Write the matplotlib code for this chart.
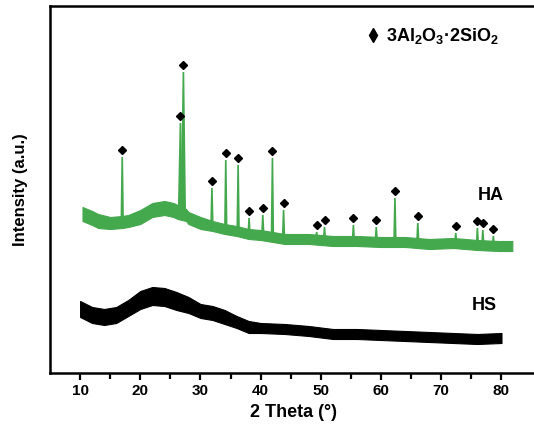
import matplotlib
matplotlib.use("Agg")
import matplotlib.pyplot as plt
from matplotlib.lines import Line2D
import numpy as np

plt.rcParams['font.family'] = ['Liberation Sans', 'DejaVu Sans']
plt.rcParams['font.weight'] = 'bold'
plt.rcParams['mathtext.fontset'] = 'custom'
plt.rcParams['mathtext.bf'] = 'Liberation Sans:bold'
plt.rcParams['mathtext.rm'] = 'Liberation Sans:bold'
plt.rcParams['mathtext.default'] = 'bf'

# HA pattern: background (band centre and half spread)
ha_theta = [10.4, 12, 13, 15, 17, 18, 20, 22, 24, 25.5, 26.2, 27.6, 28, 30, 32, 34, 36,
            38, 40, 42, 44, 48, 52, 56, 60, 64, 68, 72, 76, 79.5, 81.8]
ha_base = [159, 155, 152, 150, 151, 152, 156, 163, 165, 163, 161, 158, 155, 150, 147, 144, 142,
           139, 138, 136, 134, 134, 132, 132, 131, 131, 129, 130, 128, 127, 127]
ha_spread = [7, 7, 7, 6, 6, 6, 7, 7, 7, 7, 7, 6, 6, 6, 5, 5, 5,
             5, 5, 5, 5, 5, 5, 5, 5, 5, 5, 5, 5, 5, 5]

# HA sharp reflections (mullite): position, top, foot
peak_theta = [17.0, 26.67, 27.16, 31.9, 34.2, 36.25, 38.07, 40.35, 41.95, 43.8,
              49.3, 50.6, 55.4, 59.2, 62.3, 66.1, 72.4, 76.0, 76.9, 78.65]
peak_top = [216, 250, 301, 185, 213, 208, 155, 158, 215, 163,
            141, 146, 148, 146, 175, 150, 140, 145, 143, 137]
peak_foot = [151, 161, 160, 147, 144, 142, 139, 138, 137, 135,
             134, 133, 132, 132, 131, 131, 130, 128, 128, 127]

# HS pattern: amorphous hump
hs_theta = [10, 12, 14, 16, 18, 20, 22, 24, 26, 28, 30, 32, 34, 36, 38, 40,
            44, 48, 52, 56, 60, 64, 68, 72, 76, 80]
hs_base = [64, 58, 56, 58, 65, 73, 77, 76, 72, 68, 62, 60, 56, 51, 46, 45,
           44, 42, 39, 39, 38, 37, 36, 35, 34, 35]
hs_spread = [8, 8, 8, 8, 8, 9, 9, 9, 9, 8, 7, 7, 7, 6, 6, 5,
             5, 5, 5, 5, 5, 5, 5, 5, 5, 5]

green = '#44a84d'

fig = plt.figure(figsize=(5.34, 4.34), dpi=100)
ax = fig.add_axes([50 / 534, 61 / 434, 487.6 / 534, 367 / 434])

# background bands
ha_b = np.array(ha_base)
ha_s = np.array(ha_spread)
ax.fill_between(ha_theta, ha_b - ha_s, ha_b + ha_s, color=green, lw=0.8, edgecolor=green)
hs_b = np.array(hs_base)
hs_s = np.array(hs_spread)
ax.fill_between(hs_theta, hs_b - hs_s, hs_b + hs_s, color='black', lw=0.8, edgecolor='black')

# sharp peaks with diamond markers
for pos, top, foot in zip(peak_theta, peak_top, peak_foot):
    w = 0.3 if 26 < pos < 28 else 0.15
    ax.fill([pos - w, pos, pos + w], [foot, top, foot], color=green, lw=1.2, edgecolor=green)
ax.plot(peak_theta, np.array(peak_top) + 7, 'D', color='black', markersize=4.5, ls='none')

ax.text(78.3, 177, 'HA', ha='center', va='center', fontsize=13, fontweight='bold')
ax.text(77.1, 67, 'HS', ha='center', va='center', fontsize=13, fontweight='bold')

handle = Line2D([], [], marker='d', color='black', ls='none', markersize=7.5)
ax.legend([handle], [r'3Al$_2$O$_3$·2SiO$_2$'], loc='center left', bbox_to_anchor=(0.632, 0.918),
          frameon=False, borderpad=0, handlelength=0.6, handletextpad=0.45,
          prop={'size': 13, 'weight': 'bold'})

ax.set_xlim(5, 86)
ax.set_ylim(0, 367)
ax.set_xticks([10, 20, 30, 40, 50, 60, 70, 80])
ax.set_xticks([15, 25, 35, 45, 55, 65, 75], minor=True)
ax.set_yticks([])
ax.tick_params(axis='x', which='major', length=5, width=1.6, labelsize=11, pad=3)
ax.tick_params(axis='x', which='minor', length=4, width=1.6)
for s in ax.spines.values():
    s.set_linewidth(1.8)

ax.set_xlabel('2 Theta (°)', fontsize=13, fontweight='bold', labelpad=4)
ax.set_ylabel('Intensity (a.u.)', fontsize=12, fontweight='bold', labelpad=16)

fig.savefig('out.png', dpi=100)
